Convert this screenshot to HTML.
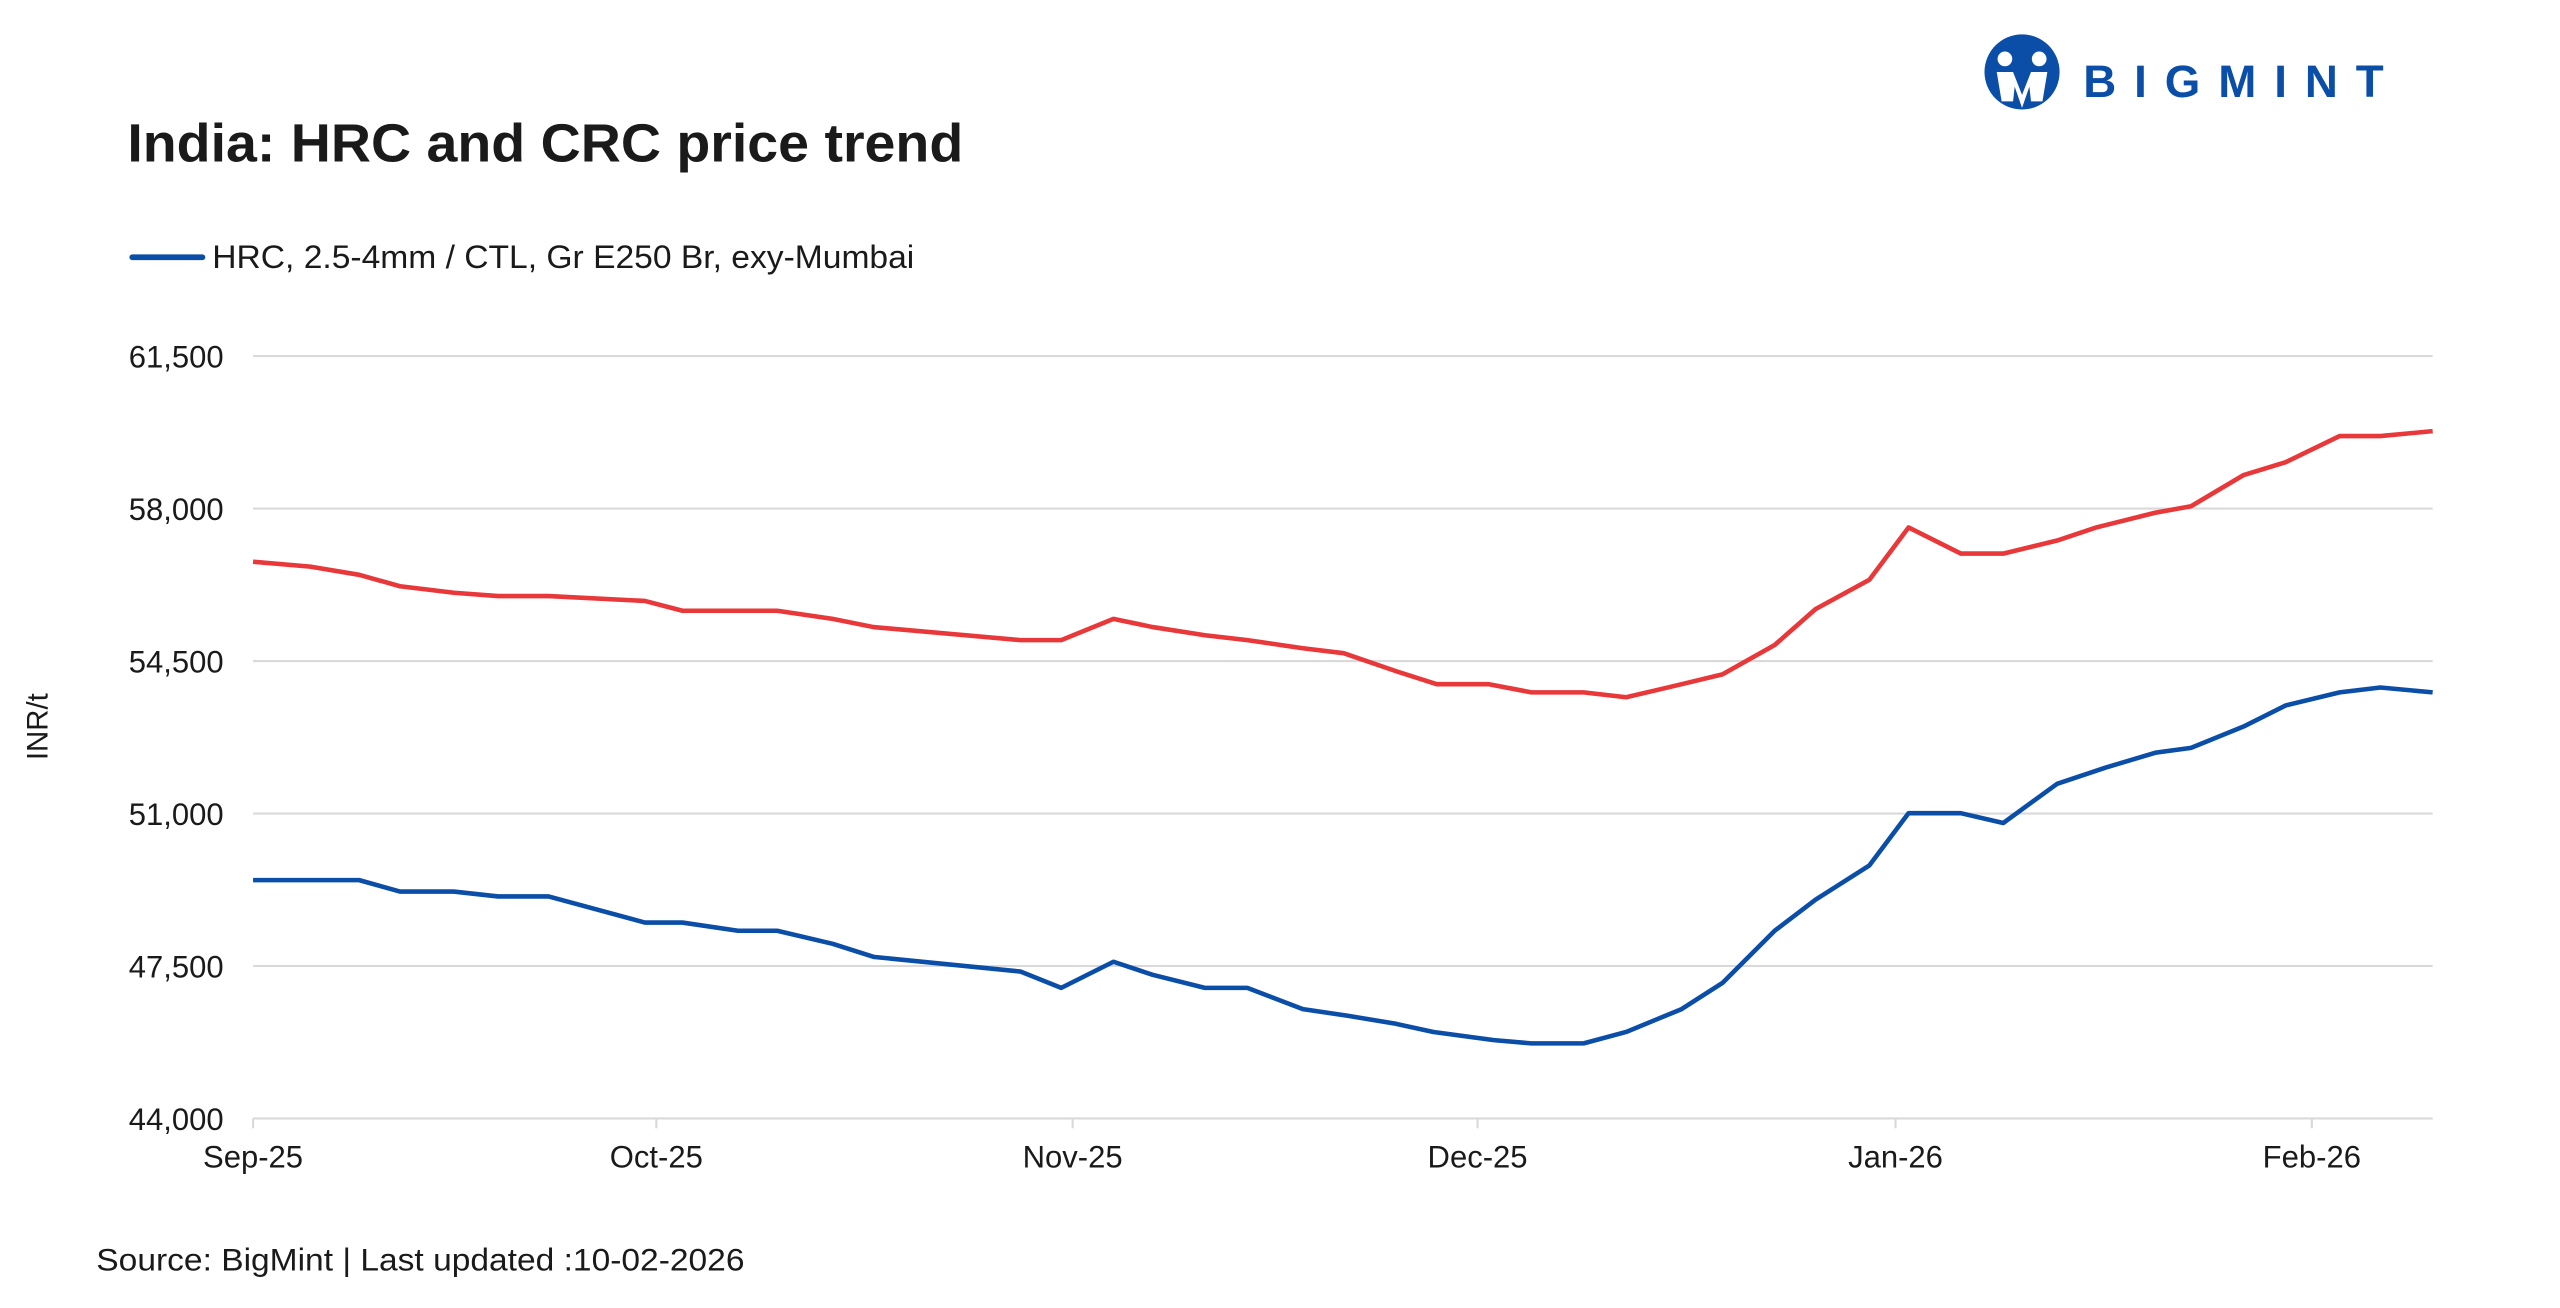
<!DOCTYPE html>
<html><head><meta charset="utf-8"><style>
html,body{margin:0;padding:0;background:#fff;width:2560px;height:1308px;overflow:hidden}
svg{display:block}
text{font-family:"Liberation Sans",sans-serif;fill:#1a1a1a}
</style></head><body>
<svg width="2560" height="1308" viewBox="0 0 1568 801" xmlns="http://www.w3.org/2000/svg">
<rect width="1568" height="801" fill="#fff"/>
<circle cx="1238.5" cy="44" r="23" fill="#0b4ea8"/>
<circle cx="1228" cy="36" r="4.5" fill="#fff"/>
<circle cx="1249" cy="36" r="4.5" fill="#fff"/>
<path d="M1223 44 L1233 44 L1238.5 58 L1244 44 L1254 44 L1251 62 L1244 62 L1243 53 L1238.5 66 L1234 53 L1233 62 L1226 62 Z" fill="#fff"/>
<text x="1276" y="59.4" font-size="28" font-weight="bold" textLength="184" lengthAdjust="spacing" style="fill:#0b4ea8">BIGMINT</text>
<text x="78" y="99" font-size="33" font-weight="bold" textLength="512" lengthAdjust="spacingAndGlyphs">India: HRC and CRC price trend</text>
<line x1="81" y1="157.5" x2="124" y2="157.5" stroke="#0b4ea8" stroke-width="3.5" stroke-linecap="round"/>
<text x="130" y="164" font-size="20" textLength="430" lengthAdjust="spacingAndGlyphs">HRC, 2.5-4mm / CTL, Gr E250 Br, exy-Mumbai</text>
<g stroke="#d9d9d9" stroke-width="1.3">
<line x1="155" y1="218" x2="1490" y2="218"/><line x1="155" y1="311.4" x2="1490" y2="311.4"/>
<line x1="155" y1="404.8" x2="1490" y2="404.8"/><line x1="155" y1="498.2" x2="1490" y2="498.2"/>
<line x1="155" y1="591.6" x2="1490" y2="591.6"/><line x1="155" y1="685" x2="1490" y2="685"/>
<line x1="155" y1="685" x2="155" y2="691"/><line x1="402" y1="685" x2="402" y2="691"/>
<line x1="657" y1="685" x2="657" y2="691"/><line x1="905" y1="685" x2="905" y2="691"/>
<line x1="1161" y1="685" x2="1161" y2="691"/><line x1="1416" y1="685" x2="1416" y2="691"/>
</g>
<g font-size="19" text-anchor="end">
<text x="137" y="225">61,500</text><text x="137" y="318.4">58,000</text>
<text x="137" y="411.8">54,500</text><text x="137" y="505.2">51,000</text>
<text x="137" y="598.6">47,500</text><text x="137" y="692">44,000</text>
</g>
<g font-size="19" text-anchor="middle">
<text x="155" y="715">Sep-25</text><text x="402" y="715">Oct-25</text>
<text x="657" y="715">Nov-25</text><text x="905" y="715">Dec-25</text>
<text x="1161" y="715">Jan-26</text><text x="1416" y="715">Feb-26</text>
</g>
<text transform="translate(29,445) rotate(-90)" font-size="18" text-anchor="middle">INR/t</text>
<text x="59" y="778" font-size="19" textLength="397" lengthAdjust="spacingAndGlyphs">Source: BigMint | Last updated :10-02-2026</text>
<polyline fill="none" stroke="#e8383a" stroke-width="2.8" stroke-linejoin="round" points="155,344 190,347 220,352 245,359 278,363 305,365 336,365 395,368 418,374 476,374 510,379 535,384 625,392 650,392 682,379 706,384 738,389 764,392 798,397 823,400 855,411 880,419 912,419 938,424 970,424 996,427 1030,419 1055,413 1087,395 1112,373 1145,355 1169,323 1201,339 1227,339 1260,331 1284,323 1320,314 1342,310 1374,291 1400,283 1433,267 1458,267 1490,264"/>
<polyline fill="none" stroke="#0b4ea8" stroke-width="2.8" stroke-linejoin="round" points="155,539 220,539 245,546 278,546 305,549 336,549 395,565 418,565 452,570 476,570 510,578 535,586 625,595 650,605 682,589 706,597 738,605 764,605 798,618 825,622 855,627 878,632 915,637 938,639 970,639 996,632 1030,618 1055,602 1087,570 1112,551 1145,530 1169,498 1201,498 1227,504 1260,480 1290,470 1320,461 1342,458 1374,445 1400,432 1433,424 1458,421 1490,424"/>
</svg>
</body></html>
